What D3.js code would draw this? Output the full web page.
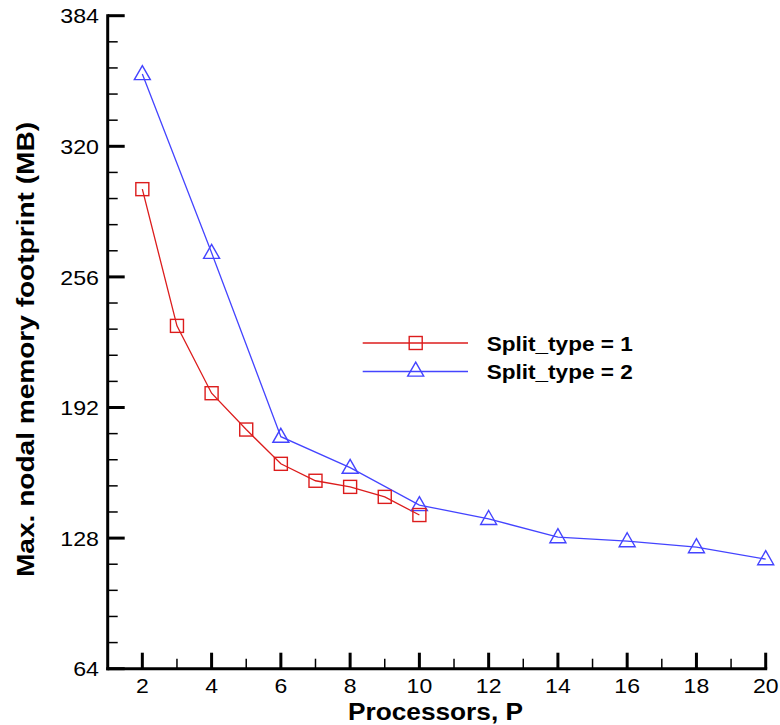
<!DOCTYPE html>
<html>
<head>
<meta charset="utf-8">
<script src="https://cdn.jsdelivr.net/npm/d3@7/dist/d3.min.js"></script>
<style>
  html, body { margin: 0; padding: 0; background: #fff; }
  svg { display: block; font-family: "Liberation Sans", Arial, Helvetica, sans-serif; }
</style>
</head>
<body>
<svg id="chart" width="780" height="725"></svg>
<script>
// ---- data ----
const split1X = [2, 3, 4, 5, 6, 7, 8, 9, 10];
const split1Y = [299, 232, 199, 181.2, 164.4, 156.1, 153.1, 148.2, 139.3];
const split2X = [2, 4, 6, 8, 10, 12, 14, 16, 18, 20];
const split2Y = [355.4, 267.8, 177.7, 162.5, 144.2, 137.4, 128.5, 126.5, 123.6, 117.7];
const seriesNames = ["Split_type = 1", "Split_type = 2"];
const xTicks = [2, 4, 6, 8, 10, 12, 14, 16, 18, 20];
const yTicks = [64, 128, 192, 256, 320, 384];
const xLabel = "Processors, P";
const yLabel = "Max. nodal memory footprint (MB)";

// ---- layout ----
const svg = d3.select("#chart");
const x = d3.scaleLinear().domain([1, 20]).range([107.7, 765.7]);
const y = d3.scaleLinear().domain([64, 384]).range([668.7, 15.7]);
const red = "#dc1c1c", blue = "#4444ff";

const xMinor = d3.range(3, 20, 2);
const yMinor = [];
yTicks.slice(0, -1).forEach(t => { for (let k = 1; k < 5; k++) yMinor.push(t + k * 12.8); });

// minor ticks x
svg.append("g").selectAll("line").data(xMinor).join("line")
  .attr("x1", d => x(d)).attr("x2", d => x(d))
  .attr("y1", y(64)).attr("y2", y(64) - 10)
  .attr("stroke", "#000").attr("stroke-width", 1.5);
// major ticks x
svg.append("g").selectAll("line").data(xTicks).join("line")
  .attr("x1", d => x(d)).attr("x2", d => x(d))
  .attr("y1", y(64)).attr("y2", y(64) - 16)
  .attr("stroke", "#000").attr("stroke-width", 3);
// minor ticks y
svg.append("g").selectAll("line").data(yMinor).join("line")
  .attr("x1", x(1)).attr("x2", x(1) + 10)
  .attr("y1", d => y(d)).attr("y2", d => y(d))
  .attr("stroke", "#000").attr("stroke-width", 1.5);
// major ticks y
svg.append("g").selectAll("line").data(yTicks).join("line")
  .attr("x1", x(1)).attr("x2", x(1) + 17)
  .attr("y1", d => y(d)).attr("y2", d => y(d))
  .attr("stroke", "#000").attr("stroke-width", 3);

// axis lines
svg.append("line").attr("x1", x(1)).attr("x2", x(20)).attr("y1", y(64)).attr("y2", y(64))
  .attr("stroke", "#000").attr("stroke-width", 3).attr("stroke-linecap", "square");
svg.append("line").attr("x1", x(1)).attr("x2", x(1)).attr("y1", y(64)).attr("y2", y(384))
  .attr("stroke", "#000").attr("stroke-width", 3).attr("stroke-linecap", "square");

// tick labels
svg.append("g").selectAll("text").data(xTicks).join("text")
  .attr("x", d => x(d)).attr("y", 692.5)
  .attr("text-anchor", "middle").attr("font-size", 21)
  .attr("textLength", d => String(d).length * 12.8).attr("lengthAdjust", "spacingAndGlyphs")
  .text(d => d);
svg.append("g").selectAll("text").data(yTicks).join("text")
  .attr("x", 99).attr("y", d => y(d) + 7.6)
  .attr("text-anchor", "end").attr("font-size", 21)
  .attr("textLength", d => String(d).length * 12.9).attr("lengthAdjust", "spacingAndGlyphs")
  .text(d => d);

// axis titles
svg.append("text").attr("x", 435.5).attr("y", 720).attr("text-anchor", "middle")
  .attr("font-size", 23).attr("font-weight", "bold")
  .attr("textLength", 175).attr("lengthAdjust", "spacingAndGlyphs").text(xLabel);
svg.append("text").attr("transform", "translate(34,349.5) rotate(-90)").attr("text-anchor", "middle")
  .attr("font-size", 24).attr("font-weight", "bold")
  .attr("textLength", 455).attr("lengthAdjust", "spacingAndGlyphs").text(yLabel);

// lines
const line = d3.line().x(d => x(d[0])).y(d => y(d[1]));
const s1 = split1X.map((v, i) => [v, split1Y[i]]);
const s2 = split2X.map((v, i) => [v, split2Y[i]]);

svg.append("path").datum(s2).attr("d", line).attr("fill", "none").attr("stroke", blue).attr("stroke-width", 1.3);
svg.append("path").datum(s1).attr("d", line).attr("fill", "none").attr("stroke", red).attr("stroke-width", 1.3);

const triPath = (cx, cy) => {
  const h = 14, w = 16;
  return `M${cx},${cy - h*0.6}L${cx + w/2},${cy + h*0.4}L${cx - w/2},${cy + h*0.4}Z`;
};

svg.append("g").selectAll("path").data(s2).join("path")
  .attr("d", d => triPath(x(d[0]), y(d[1])))
  .attr("fill", "none").attr("stroke", blue).attr("stroke-width", 1.4);
svg.append("g").selectAll("rect").data(s1).join("rect")
  .attr("x", d => x(d[0]) - 6.5).attr("y", d => y(d[1]) - 6.5)
  .attr("width", 13).attr("height", 13)
  .attr("fill", "none").attr("stroke", red).attr("stroke-width", 1.4);

// legend
const legY = [343, 371.5];
const legColors = [red, blue];
const leg = svg.append("g");
seriesNames.forEach((name, i) => {
  leg.append("line").attr("x1", 362.7).attr("x2", 468).attr("y1", legY[i]).attr("y2", legY[i])
    .attr("stroke", legColors[i]).attr("stroke-width", 1.3);
  if (i === 0) {
    leg.append("rect").attr("x", 415.7 - 6.5).attr("y", legY[i] - 6.5).attr("width", 13).attr("height", 13)
      .attr("fill", "none").attr("stroke", red).attr("stroke-width", 1.4);
  } else {
    leg.append("path").attr("d", triPath(415.7, legY[i] - 1)).attr("fill", "none").attr("stroke", blue).attr("stroke-width", 1.4);
  }
  leg.append("text").attr("x", 486.7).attr("y", legY[i] + 7.5).attr("font-size", 21).attr("font-weight", "bold")
    .attr("textLength", 146).attr("lengthAdjust", "spacingAndGlyphs").text(name);
});
</script>
</body>
</html>
